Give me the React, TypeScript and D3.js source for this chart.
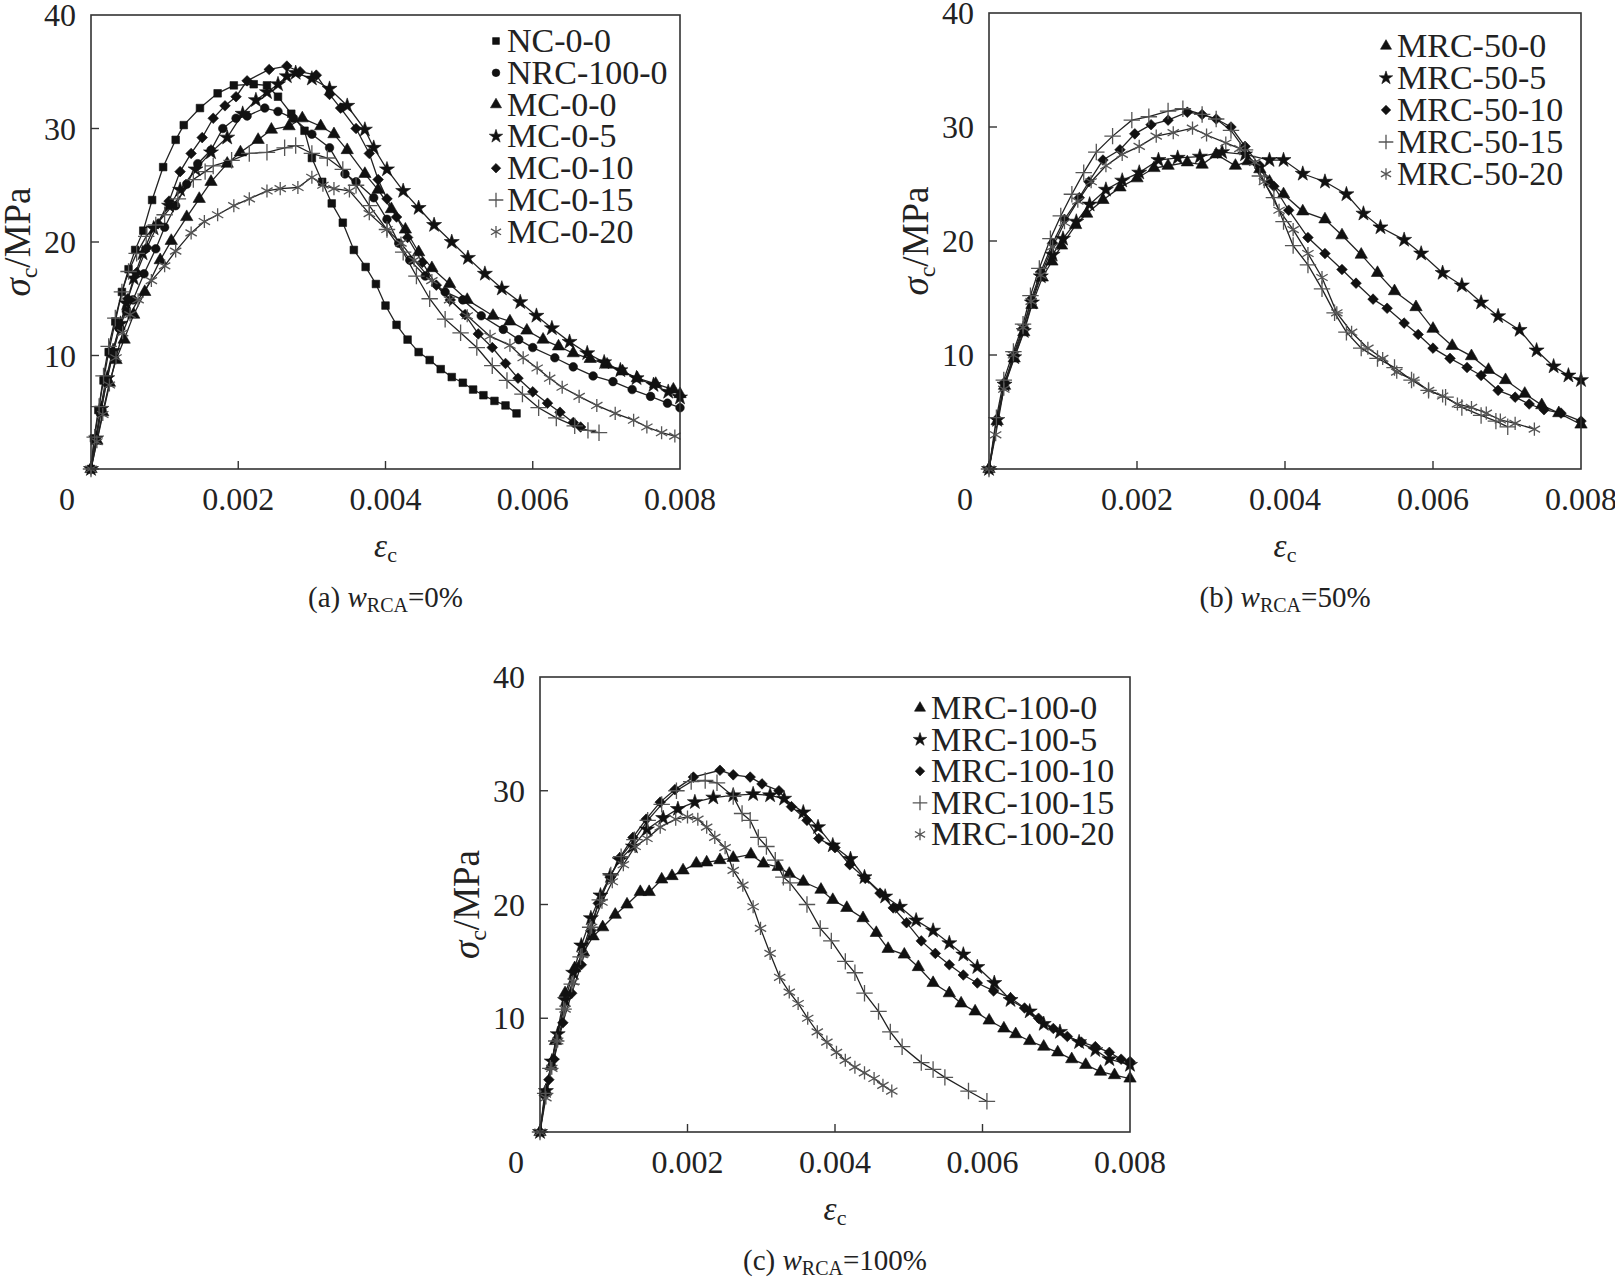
import * as d3 from "d3";

type Pt = [number, number]; // [strain, stress in MPa]

// ---- tick values / labels
const xTicks = [0, 0.002, 0.004, 0.006, 0.008];
const xTickLabels = ["0", "0.002", "0.004", "0.006", "0.008"];
const yTicks = [10, 20, 30, 40];

// ---- (a) wRCA = 0%
const nc00: Pt[] = [
  [0, 0], [0.00004, 2.7], [0.0001, 5.2], [0.00017, 7.8], [0.00024, 10.3], [0.00033, 13.0],
  [0.00042, 15.6], [0.00051, 17.6], [0.0006, 19.3], [0.00071, 21.0], [0.00083, 23.7], [0.00098, 26.6],
  [0.00115, 29.0], [0.00126, 30.3], [0.00148, 31.8], [0.00172, 33.1], [0.00194, 33.8], [0.00221, 33.9],
  [0.00239, 33.8], [0.00254, 32.8], [0.00272, 31.3], [0.0029, 29.8], [0.003, 27.4], [0.00314, 25.3],
  [0.00327, 23.4], [0.00342, 21.7], [0.00357, 19.3], [0.00373, 17.8], [0.00387, 16.3], [0.004, 14.4],
  [0.00415, 12.7], [0.0043, 11.4], [0.00445, 10.3], [0.0046, 9.6], [0.00475, 8.8], [0.0049, 8.1],
  [0.00505, 7.6], [0.00519, 7.0], [0.00533, 6.5], [0.00548, 6.0], [0.00563, 5.6], [0.00578, 4.9],
];
const nrc1000: Pt[] = [
  [0, 0], [0.00006, 2.5], [0.00012, 5.0], [0.0002, 7.8], [0.00029, 10.3], [0.00038, 12.4],
  [0.00048, 13.9], [0.00057, 14.9], [0.00072, 17.2], [0.00088, 19.4], [0.001, 21.3], [0.00115, 23.2],
  [0.0013, 25.1], [0.00145, 26.9], [0.00163, 28.1], [0.00179, 30.0], [0.00197, 30.9], [0.00212, 31.1],
  [0.00236, 31.8], [0.00254, 31.5], [0.00275, 30.9], [0.003, 29.5], [0.00324, 28.3], [0.00345, 26.0],
  [0.0036, 25.3], [0.00384, 23.9], [0.00402, 22.0], [0.00418, 19.9], [0.00433, 18.4], [0.00454, 17.0],
  [0.00481, 15.6], [0.00505, 14.9], [0.0053, 13.5], [0.0056, 12.3], [0.00581, 11.4], [0.006, 10.7],
  [0.0063, 9.8], [0.00655, 9.0], [0.00682, 8.2], [0.00709, 7.7], [0.00735, 7.0], [0.0076, 6.4],
  [0.00783, 5.8], [0.008, 5.4],
];
const mc00: Pt[] = [
  [0, 0], [0.00008, 2.5], [0.00016, 5.0], [0.00025, 7.6], [0.00034, 9.6], [0.00045, 11.4],
  [0.00058, 13.6], [0.00073, 15.6], [0.00094, 18.4], [0.00109, 20.1], [0.0013, 22.2], [0.00147, 23.8],
  [0.00163, 25.3], [0.00185, 26.9], [0.00203, 27.9], [0.00227, 29.0], [0.00245, 29.9], [0.00269, 30.2],
  [0.00287, 30.9], [0.00312, 30.2], [0.0033, 29.5], [0.00348, 28.1], [0.00372, 26.0], [0.0039, 24.6],
  [0.00408, 22.9], [0.00427, 21.1], [0.00445, 19.1], [0.00463, 17.7], [0.00487, 16.3], [0.00511, 14.9],
  [0.00546, 13.5], [0.00569, 13.0], [0.00592, 12.2], [0.00614, 11.4], [0.00635, 10.8], [0.00655, 10.2],
  [0.00678, 9.7], [0.00701, 9.2], [0.00722, 8.6], [0.00742, 8.0], [0.00767, 7.5], [0.00791, 7.0],
  [0.008, 6.6],
];
const mc05: Pt[] = [
  [0, 0], [0.00007, 2.7], [0.00014, 5.3], [0.00022, 8.0], [0.0003, 10.4], [0.0004, 12.8],
  [0.00048, 14.6], [0.00058, 16.8], [0.0007, 19.0], [0.00085, 21.2], [0.00106, 23.2], [0.00121, 24.6],
  [0.00142, 26.4], [0.00163, 27.9], [0.00185, 29.2], [0.00206, 31.3], [0.00224, 32.5], [0.00239, 33.2],
  [0.00254, 33.9], [0.00266, 34.6], [0.00278, 34.9], [0.003, 34.4], [0.00324, 33.5], [0.00348, 32.0],
  [0.00372, 29.9], [0.00384, 28.3], [0.00402, 26.4], [0.00424, 24.5], [0.00445, 23.0], [0.00466, 21.5],
  [0.0049, 20.0], [0.00512, 18.6], [0.00535, 17.2], [0.00558, 15.9], [0.00583, 14.7], [0.00605, 13.5],
  [0.00626, 12.4], [0.0065, 11.2], [0.00674, 10.2], [0.00697, 9.4], [0.00719, 8.7], [0.00741, 8.0],
  [0.00764, 7.4], [0.00784, 6.8], [0.008, 6.3],
];
const mc010: Pt[] = [
  [0, 0], [0.00007, 2.6], [0.00014, 5.2], [0.00021, 7.6], [0.00029, 10.0], [0.00039, 12.4],
  [0.0005, 15.0], [0.00062, 17.3], [0.00076, 19.5], [0.00091, 21.6], [0.00106, 23.6], [0.00121, 26.2],
  [0.00136, 27.8], [0.00151, 29.2], [0.00166, 30.9], [0.00182, 32.0], [0.00197, 32.8], [0.00212, 34.2],
  [0.00242, 35.2], [0.00266, 35.5], [0.00284, 35.0], [0.00306, 34.7], [0.00324, 33.0], [0.00339, 31.8],
  [0.0036, 30.0], [0.00378, 27.8], [0.0039, 25.5], [0.00402, 23.8], [0.00415, 22.2], [0.0043, 20.4],
  [0.0045, 18.2], [0.00469, 16.2], [0.00488, 14.9], [0.00508, 13.6], [0.00526, 11.9], [0.00545, 10.7],
  [0.00563, 9.3], [0.0058, 8.0], [0.006, 6.8], [0.0062, 5.8], [0.00637, 5.0], [0.00655, 4.1],
  [0.00665, 3.7],
];
const mc015: Pt[] = [
  [0, 0], [0.00005, 2.8], [0.00011, 5.5], [0.00017, 8.2], [0.00024, 10.8], [0.00033, 13.3],
  [0.00042, 15.6], [0.00051, 17.4], [0.00062, 19.0], [0.00075, 20.5], [0.00088, 21.5], [0.001, 22.4],
  [0.00118, 23.8], [0.00139, 25.5], [0.00155, 26.2], [0.00166, 26.7], [0.00191, 27.2], [0.00215, 27.8],
  [0.00239, 27.9], [0.00263, 28.3], [0.00278, 28.5], [0.003, 27.8], [0.00321, 27.4], [0.00342, 26.4],
  [0.0036, 25.0], [0.00378, 23.2], [0.00402, 21.1], [0.00424, 19.1], [0.00442, 17.0], [0.0046, 15.0],
  [0.00481, 13.2], [0.00502, 12.0], [0.00524, 10.7], [0.00545, 9.1], [0.00565, 7.8], [0.00586, 6.6],
  [0.00608, 5.4], [0.00632, 4.5], [0.00657, 3.8], [0.00675, 3.4], [0.0069, 3.2],
];
const mc020: Pt[] = [
  [0, 0], [0.00008, 2.4], [0.00016, 4.8], [0.00025, 7.4], [0.00034, 9.8], [0.00043, 12.0],
  [0.00053, 13.6], [0.00064, 14.9], [0.00082, 16.6], [0.001, 17.9], [0.00115, 19.2], [0.00136, 20.8],
  [0.00154, 21.8], [0.00172, 22.4], [0.00194, 23.2], [0.00215, 23.8], [0.00239, 24.5], [0.00257, 24.7],
  [0.00281, 24.8], [0.003, 25.7], [0.00315, 25.0], [0.0033, 24.7], [0.00351, 24.5], [0.00378, 22.5],
  [0.00402, 21.1], [0.00421, 19.9], [0.00439, 18.4], [0.00463, 16.6], [0.00487, 14.9], [0.00511, 13.5],
  [0.00542, 11.7], [0.00569, 10.9], [0.00587, 9.8], [0.00606, 8.9], [0.00623, 8.0], [0.0064, 7.2],
  [0.00663, 6.4], [0.00687, 5.6], [0.00712, 4.9], [0.00737, 4.3], [0.00755, 3.7], [0.00775, 3.2],
  [0.00793, 2.9],
];

// ---- (b) wRCA = 50%
const mrc500: Pt[] = [
  [0, 0], [0.00011, 4.2], [0.00021, 7.3], [0.00034, 9.7], [0.00047, 12.0], [0.00058, 14.4],
  [0.00072, 16.8], [0.00085, 18.2], [0.00098, 19.6], [0.00117, 21.4], [0.00132, 22.4], [0.00154, 23.6],
  [0.00177, 24.7], [0.002, 25.5], [0.00223, 26.4], [0.00242, 26.6], [0.00268, 26.9], [0.00288, 26.7],
  [0.00307, 27.6], [0.00333, 26.6], [0.0035, 27.0], [0.00366, 26.3], [0.00379, 25.2], [0.00398, 24.1],
  [0.00424, 22.6], [0.00454, 21.9], [0.00477, 20.5], [0.00503, 18.8], [0.00525, 17.2], [0.00548, 15.6],
  [0.00577, 14.2], [0.006, 12.3], [0.00626, 10.8], [0.00652, 9.9], [0.00675, 8.7], [0.00698, 7.8],
  [0.00724, 6.6], [0.00747, 5.6], [0.0077, 4.9], [0.008, 3.9],
];
const mrc505: Pt[] = [
  [0, 0], [0.00011, 4.3], [0.00021, 7.4], [0.00034, 9.8], [0.00047, 12.1], [0.00058, 14.6],
  [0.0007, 16.9], [0.00086, 18.8], [0.001, 20.2], [0.00118, 21.7], [0.00136, 23.2], [0.00158, 24.5],
  [0.0018, 25.3], [0.00203, 26.0], [0.00229, 27.1], [0.00255, 27.3], [0.00285, 27.4], [0.00315, 27.8],
  [0.00346, 27.6], [0.00379, 27.1], [0.00398, 27.1], [0.00424, 25.9], [0.00454, 25.2], [0.00483, 24.1],
  [0.00506, 22.4], [0.00529, 21.2], [0.00561, 20.1], [0.00584, 18.9], [0.00613, 17.2], [0.00639, 16.1],
  [0.00665, 14.6], [0.00688, 13.4], [0.00717, 12.2], [0.0074, 10.4], [0.00763, 9.0], [0.00783, 8.2],
  [0.008, 7.8],
];
const mrc5010: Pt[] = [
  [0, 0], [0.00011, 4.4], [0.00021, 7.6], [0.00034, 10.0], [0.00047, 12.4], [0.00057, 14.9],
  [0.0007, 17.3], [0.00086, 19.8], [0.00102, 21.9], [0.00122, 23.8], [0.00135, 25.2], [0.00154, 27.1],
  [0.00177, 28.0], [0.00197, 29.4], [0.00219, 30.2], [0.00242, 30.6], [0.00268, 31.3], [0.00288, 31.1],
  [0.00307, 30.7], [0.00327, 30.0], [0.00346, 28.3], [0.00366, 26.6], [0.00385, 24.8], [0.00405, 22.7],
  [0.00431, 20.3], [0.00454, 18.9], [0.00477, 17.5], [0.00496, 16.3], [0.00519, 14.9], [0.00538, 14.1],
  [0.00561, 12.8], [0.0058, 11.8], [0.006, 10.6], [0.00623, 9.7], [0.00646, 8.9], [0.00665, 8.2],
  [0.00688, 6.9], [0.00711, 6.3], [0.0073, 5.7], [0.0075, 5.2], [0.00773, 4.9], [0.008, 4.2],
];
const mrc5015: Pt[] = [
  [0, 0], [0.0001, 4.5], [0.0002, 7.8], [0.00033, 10.3], [0.00046, 12.7], [0.00056, 15.2],
  [0.00068, 17.6], [0.00083, 20.2], [0.00097, 22.2], [0.00112, 24.1], [0.00128, 26.0], [0.00145, 27.8],
  [0.00167, 29.2], [0.00193, 30.6], [0.00216, 30.9], [0.00242, 31.4], [0.00262, 31.6], [0.00288, 31.1],
  [0.00307, 30.7], [0.00327, 29.7], [0.00346, 28.0], [0.00366, 25.7], [0.00385, 23.8], [0.00398, 21.7],
  [0.00411, 19.6], [0.00431, 17.9], [0.0045, 15.8], [0.00467, 13.7], [0.00483, 12.0], [0.00503, 10.6],
  [0.00525, 9.7], [0.00548, 8.9], [0.00571, 7.8], [0.00594, 6.9], [0.00617, 6.3], [0.00639, 5.4],
  [0.00665, 4.7], [0.00685, 4.2], [0.00701, 3.7],
];
const mrc5020: Pt[] = [
  [0, 0], [0.00009, 3.0], [0.0002, 7.0], [0.00033, 10.0], [0.00046, 12.4], [0.00057, 14.7],
  [0.0007, 17.0], [0.00086, 19.5], [0.00102, 21.6], [0.0012, 23.5], [0.00138, 25.2], [0.00158, 26.6],
  [0.0018, 27.6], [0.00203, 28.3], [0.00226, 29.2], [0.00249, 29.5], [0.00275, 29.9], [0.00294, 29.3],
  [0.0032, 28.6], [0.00339, 28.1], [0.00359, 26.9], [0.00372, 25.2], [0.00392, 22.7], [0.00411, 21.0],
  [0.00431, 18.9], [0.0045, 16.8], [0.0047, 13.7], [0.0049, 12.0], [0.00512, 10.6], [0.00532, 9.7],
  [0.00551, 8.5], [0.00574, 7.8], [0.00594, 6.9], [0.00613, 6.4], [0.00633, 5.7], [0.00652, 5.4],
  [0.00672, 4.9], [0.00691, 4.3], [0.00711, 4.0], [0.00737, 3.5],
];

// ---- (c) wRCA = 100%
const mrc1000: Pt[] = [
  [0, 0], [0.00008, 3.6], [0.00015, 5.8], [0.00021, 8.0], [0.00034, 12.2], [0.00047, 14.4],
  [0.00059, 15.8], [0.00072, 17.2], [0.00085, 18.0], [0.00102, 19.1], [0.00118, 20.0], [0.00136, 21.1],
  [0.00148, 21.1], [0.00165, 22.2], [0.00179, 22.5], [0.00194, 23.0], [0.00212, 23.6], [0.00226, 23.7],
  [0.00244, 23.9], [0.00262, 24.1], [0.00286, 24.4], [0.00303, 23.6], [0.00323, 23.3], [0.00338, 22.7],
  [0.00357, 22.0], [0.00381, 21.3], [0.00397, 20.4], [0.00416, 19.7], [0.00438, 18.8], [0.00456, 17.5],
  [0.00472, 16.1], [0.00494, 15.6], [0.00513, 14.5], [0.00533, 13.1], [0.00555, 12.2], [0.00571, 11.3],
  [0.0059, 10.6], [0.00609, 9.8], [0.00629, 9.1], [0.00645, 8.6], [0.00664, 8.0], [0.00683, 7.5],
  [0.00702, 7.0], [0.00721, 6.4], [0.0074, 5.9], [0.0076, 5.3], [0.00779, 5.0], [0.008, 4.7],
];
const mrc1005: Pt[] = [
  [0, 0], [0.00008, 3.6], [0.00016, 6.2], [0.00024, 8.6], [0.00034, 11.6], [0.00045, 14.0],
  [0.00056, 16.4], [0.00069, 18.8], [0.00082, 20.8], [0.00095, 22.5], [0.00108, 23.9], [0.00126, 25.1],
  [0.00145, 26.6], [0.00167, 27.6], [0.00187, 28.4], [0.0021, 29.0], [0.00235, 29.4], [0.00262, 29.6],
  [0.00289, 29.7], [0.00312, 29.6], [0.00331, 29.3], [0.00357, 28.1], [0.00377, 26.8], [0.00397, 25.2],
  [0.00421, 24.0], [0.0044, 22.4], [0.00468, 20.7], [0.00488, 19.8], [0.0051, 18.6], [0.00533, 17.7],
  [0.00555, 16.6], [0.00574, 15.6], [0.00593, 14.5], [0.00616, 13.1], [0.00638, 11.6], [0.00664, 10.6],
  [0.00683, 9.5], [0.00705, 8.8], [0.00731, 7.9], [0.00753, 7.2], [0.00772, 6.4], [0.008, 5.9],
];
const mrc10010: Pt[] = [
  [0, 0], [0.00006, 3.2], [0.00012, 4.6], [0.00019, 6.4], [0.00031, 9.6], [0.00043, 12.2],
  [0.00056, 14.7], [0.00069, 17.7], [0.00079, 20.1], [0.00095, 22.4], [0.00108, 24.1], [0.00126, 25.9],
  [0.00144, 27.5], [0.00163, 29.0], [0.00183, 30.1], [0.00208, 31.2], [0.00244, 31.8], [0.00262, 31.4],
  [0.00285, 31.2], [0.00301, 30.6], [0.00324, 30.0], [0.00341, 28.6], [0.00362, 27.4], [0.00378, 25.8],
  [0.004, 25.0], [0.0042, 23.5], [0.00441, 22.3], [0.00461, 21.0], [0.00479, 19.7], [0.00497, 18.4],
  [0.00517, 16.8], [0.00536, 15.7], [0.00555, 14.7], [0.00574, 13.8], [0.00593, 13.1], [0.00615, 12.4],
  [0.00638, 11.8], [0.00657, 10.9], [0.00676, 10.0], [0.00696, 9.1], [0.00715, 8.4], [0.00734, 7.9],
  [0.00753, 7.5], [0.00772, 7.0], [0.00788, 6.4], [0.008, 6.2],
];
const mrc10015: Pt[] = [
  [0, 0], [0.00007, 3.4], [0.00014, 5.6], [0.00022, 8.0], [0.00032, 10.8], [0.00043, 13.0],
  [0.00055, 15.4], [0.00068, 18.0], [0.00081, 20.4], [0.00096, 22.6], [0.0011, 24.2], [0.00128, 25.7],
  [0.00146, 27.4], [0.00165, 28.8], [0.00185, 30.0], [0.00205, 30.8], [0.00224, 30.9], [0.0024, 30.7],
  [0.00262, 29.5], [0.00274, 28.0], [0.00285, 27.4], [0.00296, 25.9], [0.00307, 25.1], [0.00319, 23.9],
  [0.0033, 22.4], [0.00339, 21.9], [0.00362, 20.0], [0.0038, 17.9], [0.00395, 16.8], [0.00414, 15.0],
  [0.00427, 14.0], [0.0044, 12.2], [0.00459, 10.6], [0.00475, 8.8], [0.00491, 7.5], [0.00517, 6.1],
  [0.00533, 5.5], [0.00549, 4.8], [0.00581, 3.6], [0.00606, 2.7],
];
const mrc10020: Pt[] = [
  [0, 0], [0.00008, 3.0], [0.00016, 5.6], [0.00024, 8.0], [0.00034, 10.8], [0.00045, 13.2],
  [0.00057, 15.6], [0.0007, 18.0], [0.00084, 20.2], [0.00098, 22.0], [0.00113, 23.5], [0.00129, 25.1],
  [0.00145, 25.8], [0.00163, 26.8], [0.00184, 27.5], [0.002, 27.7], [0.00214, 27.5], [0.00226, 26.8],
  [0.00237, 25.9], [0.00251, 25.0], [0.00262, 23.0], [0.00275, 21.7], [0.00289, 19.8], [0.00299, 17.9],
  [0.00312, 15.7], [0.00325, 13.6], [0.00338, 12.3], [0.0035, 11.3], [0.00363, 10.0], [0.00376, 8.8],
  [0.00389, 7.9], [0.00402, 7.0], [0.00414, 6.3], [0.00427, 5.7], [0.0044, 5.2], [0.00453, 4.7],
  [0.00465, 4.1], [0.00477, 3.6],
];

type Mark = "square" | "circle" | "triangle" | "star" | "diamond" | "plus" | "asterisk";
interface Series { name: string; data: Pt[]; mark: Mark }

const seriesA: Series[] = [
  { name: "NC-0-0", data: nc00, mark: "square" },
  { name: "NRC-100-0", data: nrc1000, mark: "circle" },
  { name: "MC-0-0", data: mc00, mark: "triangle" },
  { name: "MC-0-5", data: mc05, mark: "star" },
  { name: "MC-0-10", data: mc010, mark: "diamond" },
  { name: "MC-0-15", data: mc015, mark: "plus" },
  { name: "MC-0-20", data: mc020, mark: "asterisk" },
];
const seriesB: Series[] = [
  { name: "MRC-50-0", data: mrc500, mark: "triangle" },
  { name: "MRC-50-5", data: mrc505, mark: "star" },
  { name: "MRC-50-10", data: mrc5010, mark: "diamond" },
  { name: "MRC-50-15", data: mrc5015, mark: "plus" },
  { name: "MRC-50-20", data: mrc5020, mark: "asterisk" },
];
const seriesC: Series[] = [
  { name: "MRC-100-0", data: mrc1000, mark: "triangle" },
  { name: "MRC-100-5", data: mrc1005, mark: "star" },
  { name: "MRC-100-10", data: mrc10010, mark: "diamond" },
  { name: "MRC-100-15", data: mrc10015, mark: "plus" },
  { name: "MRC-100-20", data: mrc10020, mark: "asterisk" },
];

const anyD3 = d3 as any;
const symbolType: Record<Mark, d3.SymbolType> = {
  square: d3.symbolSquare,
  circle: d3.symbolCircle,
  triangle: d3.symbolTriangle,
  star: d3.symbolStar,
  diamond: anyD3.symbolDiamond2 ?? d3.symbolDiamond,
  plus: anyD3.symbolPlus ?? d3.symbolCross,
  asterisk: anyD3.symbolAsterisk ?? d3.symbolCross,
};
const symbolSize: Record<Mark, number> = {
  square: 58, circle: 58, triangle: 66, star: 70, diamond: 72, plus: 90, asterisk: 120,
};
const stroked = (m: Mark) => m === "plus" || m === "asterisk";

function Marker({ mark, x, y, scale = 1 }: { mark: Mark; x: number; y: number; scale?: number }) {
  const d = d3.symbol().type(symbolType[mark]).size(symbolSize[mark] * scale)() as string;
  return stroked(mark) ? (
    <path d={d} transform={`translate(${x},${y})`} fill="none" stroke="#555" strokeWidth={1.3} />
  ) : (
    <path d={d} transform={`translate(${x},${y})`} fill="#111" stroke="#111" strokeWidth={0.6} />
  );
}

interface PanelProps {
  x0: number; x1: number; y0: number; y1: number;
  series: Series[];
  legendX: number; legendY: number; legendGap: number;
  tag: string; pct: string;
}

function Panel({ x0, x1, y0, y1, series, legendX, legendY, legendGap, tag, pct }: PanelProps) {
  const x = d3.scaleLinear().domain([0, 0.008]).range([x0, x1]);
  const y = d3.scaleLinear().domain([0, 40]).range([y1, y0]);
  const line = d3.line<Pt>().x((d) => x(d[0])).y((d) => y(d[1]));
  const cx = (x0 + x1) / 2;
  const cy = (y0 + y1) / 2;
  return (
    <g>
      {series.map((s) => (
        <path key={s.name} d={line(s.data) as string} fill="none" stroke="#222" strokeWidth={1.3} />
      ))}
      {series.map((s) =>
        s.data.map((p, i) => <Marker key={s.name + i} mark={s.mark} x={x(p[0])} y={y(p[1])} />)
      )}
      <rect x={x0} y={y0} width={x1 - x0} height={y1 - y0} fill="none" stroke="#333" strokeWidth={1.6} />
      {xTicks.slice(1, -1).map((t) => (
        <line key={t} x1={x(t)} x2={x(t)} y1={y1} y2={y1 - 8} stroke="#333" strokeWidth={1.4} />
      ))}
      {yTicks.slice(0, -1).map((t) => (
        <line key={t} x1={x0} x2={x0 + 8} y1={y(t)} y2={y(t)} stroke="#333" strokeWidth={1.4} />
      ))}
      <g fontSize={32} fill="#222">
        {xTicks.map((t, i) => (
          <text key={t} x={i === 0 ? x(t) - 24 : x(t)} y={y1 + 41} textAnchor="middle">
            {xTickLabels[i]}
          </text>
        ))}
        {yTicks.map((t) => (
          <text key={t} x={x0 - 15} y={y(t) + 11} textAnchor="end">
            {t}
          </text>
        ))}
      </g>
      <text transform={`translate(${x0 - 61},${cy}) rotate(-90)`} textAnchor="middle" fontSize={37} fill="#222">
        <tspan fontStyle="italic">σ</tspan>
        <tspan fontSize={24} dy={7}>c</tspan>
        <tspan dy={-7}>/MPa</tspan>
      </text>
      <text x={cx} y={y1 + 88} textAnchor="middle" fontSize={33} fill="#222">
        <tspan fontStyle="italic">ε</tspan>
        <tspan fontSize={22} dy={5}>c</tspan>
      </text>
      <text x={cx} y={y1 + 138} textAnchor="middle" fontSize={29} fill="#222">
        <tspan>({tag}) </tspan>
        <tspan fontStyle="italic">w</tspan>
        <tspan fontSize={20} dy={5}>RCA</tspan>
        <tspan dy={-5}>={pct}</tspan>
      </text>
      <g fontSize={34} fill="#222">
        {series.map((s, i) => (
          <g key={s.name}>
            <Marker mark={s.mark} x={legendX} y={legendY + i * legendGap - 11} scale={0.8} />
            <text x={legendX + 11} y={legendY + i * legendGap}>{s.name}</text>
          </g>
        ))}
      </g>
    </g>
  );
}

export default function App() {
  return (
    <svg
      width={1615}
      height={1277}
      style={{ position: "absolute", left: 0, top: 0, background: "#fff" }}
      fontFamily="'Liberation Serif', 'Times New Roman', serif"
    >
      <Panel x0={91} x1={680} y0={15} y1={469} series={seriesA}
        legendX={496} legendY={52} legendGap={31.8} tag="a" pct="0%" />
      <Panel x0={989} x1={1581} y0={13} y1={469} series={seriesB}
        legendX={1386} legendY={57} legendGap={32} tag="b" pct="50%" />
      <Panel x0={540} x1={1130} y0={677} y1={1132} series={seriesC}
        legendX={920} legendY={719} legendGap={31.6} tag="c" pct="100%" />
    </svg>
  );
}
